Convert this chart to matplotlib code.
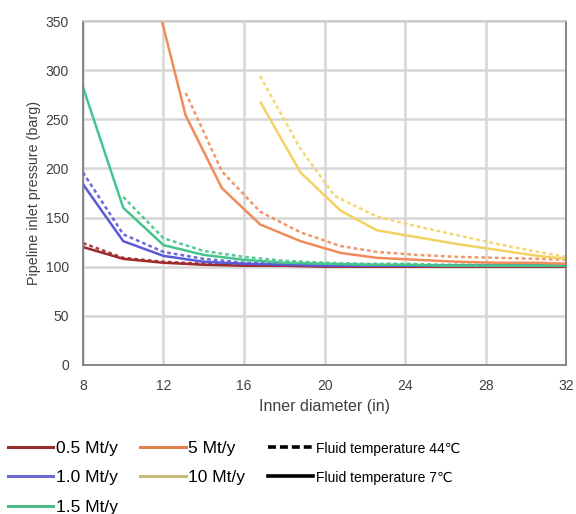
import matplotlib.pyplot as plt
from matplotlib.lines import Line2D

plt.rcParams['font.family'] = ['Liberation Sans', 'DejaVu Sans']

# 0.5 Mt/y
x_05 = [8, 10, 12, 14, 16, 18, 20, 22, 24, 26, 28, 30, 32]
y_05_cold = [120, 108, 104, 102, 101, 101, 100, 100, 100, 100, 100, 100, 100]
y_05_hot = [124, 109, 105, 103, 102, 101, 101, 101, 101, 101, 101, 101, 101]

# 1.0 Mt/y
x_10 = [8, 10, 12, 14, 16, 18, 20, 22, 24, 26, 28, 30, 32]
y_10_cold = [184, 126, 111, 105, 103, 102, 101, 101, 101, 101, 101, 101, 101]
y_10_hot = [196, 133, 115, 108, 104, 103, 102, 102, 101, 101, 101, 101, 101]

# 1.5 Mt/y
x_15_cold = [8, 10, 12, 14, 16, 18, 20, 22, 24, 26, 28, 30, 32]
y_15_cold = [283, 160, 122, 112, 107, 104, 103, 102, 102, 101, 101, 101, 101]
x_15_hot = [10, 12, 14, 16, 18, 20, 22, 24, 26, 28, 30, 32]
y_15_hot = [171, 129, 116, 110, 106, 104, 103, 103, 102, 102, 102, 102]

# 5 Mt/y
x_5_cold = [11.9, 13.1, 14.9, 16.8, 18.8, 20.8, 22.6, 24.6, 26.6, 28.6, 30.6, 32]
y_5_cold = [352, 254, 180, 143, 126, 114, 109, 107, 105, 104, 104, 103]
x_5_hot = [13.1, 14.9, 16.8, 18.8, 20.8, 22.6, 24.6, 26.6, 28.6, 30.6, 32]
y_5_hot = [277, 197, 156, 135, 121, 115, 112, 110, 109, 108, 107]

# 10 Mt/y
x_10t_cold = [16.8, 18.8, 20.8, 22.6, 24.6, 26.6, 28.6, 30.6, 32]
y_10t_cold = [268, 196, 157, 137, 130, 123, 117, 111, 108]
x_10t_hot = [16.8, 18.8, 20.5, 22.6, 24.6, 26.6, 28.6, 30.6, 32]
y_10t_hot = [294, 220, 172, 151, 141, 132, 123, 115, 110]

line_colors = ['#9e2a2b', '#5a5ad8', '#45c48c', '#f08c5a', '#f2d362']
legend_colors = ['#9b2d2d', '#6a6ad0', '#4dbb88', '#e08050', '#c9b97a']
labels = ['0.5 Mt/y', '1.0 Mt/y', '1.5 Mt/y', '5 Mt/y', '10 Mt/y']

series = [
    (x_05, y_05_cold, x_05, y_05_hot),
    (x_10, y_10_cold, x_10, y_10_hot),
    (x_15_cold, y_15_cold, x_15_hot, y_15_hot),
    (x_5_cold, y_5_cold, x_5_hot, y_5_hot),
    (x_10t_cold, y_10t_cold, x_10t_hot, y_10t_hot),
]

fig = plt.figure(figsize=(5.76, 5.14), dpi=100)
ax = fig.add_axes([0.144, 0.29, 0.839, 0.669])

for (xc, yc, xh, yh), c in zip(series, line_colors):
    ax.plot(xc, yc, color=c, lw=1.8, solid_capstyle='butt')
    ax.plot(xh, yh, color=c, lw=1.8, ls=(0, (1.5, 1.2)), alpha=0.9)

ax.set_xlim(8, 32)
ax.set_ylim(0, 350)
ax.set_xticks(range(8, 33, 4))
ax.set_yticks(range(0, 351, 50))
ax.grid(True, color='#d6d6d6', lw=1.8)
ax.set_axisbelow(True)
for s in ax.spines.values():
    s.set_color('#7f7f7f')
    s.set_linewidth(1.3)
ax.spines['top'].set_color('#c8c8c8')
ax.tick_params(length=0, labelsize=10, labelcolor='#404040')
ax.tick_params(axis='x', pad=10)
ax.tick_params(axis='y', pad=10)
ax.set_xlabel('Inner diameter (in)', fontsize=11.5, color='#404040')
ax.xaxis.set_label_coords(0.5, -0.10)
ax.set_ylabel('Pipeline inlet pressure (barg)', fontsize=10.3, color='#404040')
ax.yaxis.set_label_coords(-0.086, 0.5)

handles = [Line2D([], [], color=c, lw=2.2) for c in legend_colors]
handles.append(Line2D([], [], color='black', lw=2.6, ls=(0, (2.2, 1.1))))
handles.append(Line2D([], [], color='black', lw=2.6))
all_labels = labels + ['Fluid temperature 44\u2103', 'Fluid temperature 7\u2103']
leg = fig.legend(handles, all_labels, loc='upper left', bbox_to_anchor=(-0.013, 0.173),
                 ncol=3, frameon=False, handlelength=2.6, handletextpad=0.15,
                 columnspacing=1.3, labelspacing=0.82, fontsize=12.5)
for t in leg.get_texts()[5:]:
    t.set_fontsize(10)

fig.savefig('out.png', dpi=100, facecolor='white')
